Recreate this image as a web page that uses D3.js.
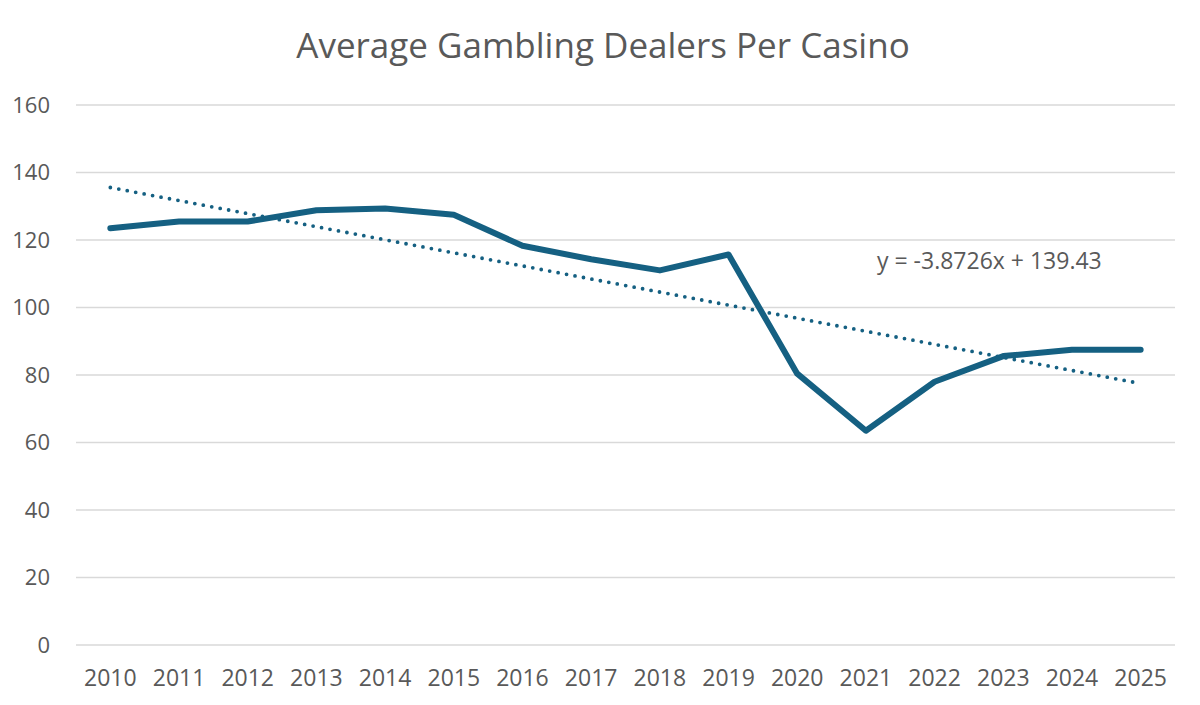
<!DOCTYPE html>
<html>
<head>
<meta charset="utf-8">
<script src="https://cdn.jsdelivr.net/npm/d3@7"></script>
<style>
  body { margin: 0; background: #fff; }
  svg text { font-family: "Open Sans", "Liberation Sans", sans-serif; fill: #595959; }
</style>
</head>
<body>
<div class="canvas"></div>
<script>
const years = ["2010","2011","2012","2013","2014","2015","2016","2017","2018","2019","2020","2021","2022","2023","2024","2025"]
const dealers = [123.5, 125.5, 125.5, 128.8, 129.3, 127.5, 118.3, 114.3, 111.0, 115.7, 80.4, 63.5, 78.0, 85.6, 87.5, 87.5]
const yTicks = [0, 20, 40, 60, 80, 100, 120, 140, 160]
const trendSlope = -3.8726
const trendIntercept = 139.43
const trendLabel = "y = -3.8726x + 139.43"

const width = 1200, height = 705
const margin = { top: 105, right: 25, bottom: 60, left: 76 }
const graphWidth = width - margin.left - margin.right
const graphHeight = 645 - margin.top

const svg = d3.select(".canvas")
    .append("svg")
    .attr("width", width)
    .attr("height", height)

svg.append("text")
    .attr("x", 603)
    .attr("y", 58)
    .attr("text-anchor", "middle")
    .style("font-size", "35px")
    .text("Average Gambling Dealers Per Casino")

const graph = svg.append("g")
    .attr("transform", `translate(${margin.left}, ${margin.top})`)

const scaleX = d3.scaleBand()
    .domain(years)
    .range([0, graphWidth])

const scaleY = d3.scaleLinear()
    .domain([0, 160])
    .range([graphHeight, 0])

const xc = d => scaleX(d) + scaleX.bandwidth() / 2

// gridlines
graph.selectAll(".grid")
    .data(yTicks)
    .enter()
    .append("line")
    .attr("x1", 0)
    .attr("x2", graphWidth)
    .attr("y1", d => scaleY(d))
    .attr("y2", d => scaleY(d))
    .attr("stroke", "#d9d9d9")
    .attr("stroke-width", 1.5)

const yAxis = d3.axisLeft(scaleY).tickValues(yTicks).tickSize(0).tickPadding(26)
const yAxisGroup = graph.append("g").call(yAxis)
yAxisGroup.select(".domain").remove()
yAxisGroup.selectAll("text").style("font-size", "22px").attr("fill", "#595959")

const xAxis = d3.axisBottom(scaleX).tickSize(0).tickPadding(25)
const xAxisGroup = graph.append("g")
    .attr("transform", `translate(0, ${graphHeight})`)
    .call(xAxis)
xAxisGroup.select(".domain").remove()
xAxisGroup.selectAll("text").style("font-size", "23px").attr("fill", "#595959")

// data line
const line = d3.line()
    .x((d, i) => xc(years[i]))
    .y(d => scaleY(d))

graph.append("path")
    .datum(dealers)
    .attr("d", line)
    .attr("fill", "none")
    .attr("stroke", "#156082")
    .attr("stroke-width", 6)
    .attr("stroke-linejoin", "round")
    .attr("stroke-linecap", "round")

// linear trendline
const trend = [1, years.length].map(n => ({ x: years[n - 1], y: trendSlope * n + trendIntercept }))
graph.append("line")
    .attr("x1", xc(trend[0].x))
    .attr("y1", scaleY(trend[0].y))
    .attr("x2", xc(trend[1].x))
    .attr("y2", scaleY(trend[1].y))
    .attr("stroke", "#156082")
    .attr("stroke-width", 3.8)
    .attr("stroke-linecap", "round")
    .attr("stroke-dasharray", "0 8.6")

graph.append("text")
    .attr("x", 877 - margin.left)
    .attr("y", 269 - margin.top)
    .style("font-size", "23px")
    .text(trendLabel)
</script>
</body>
</html>
